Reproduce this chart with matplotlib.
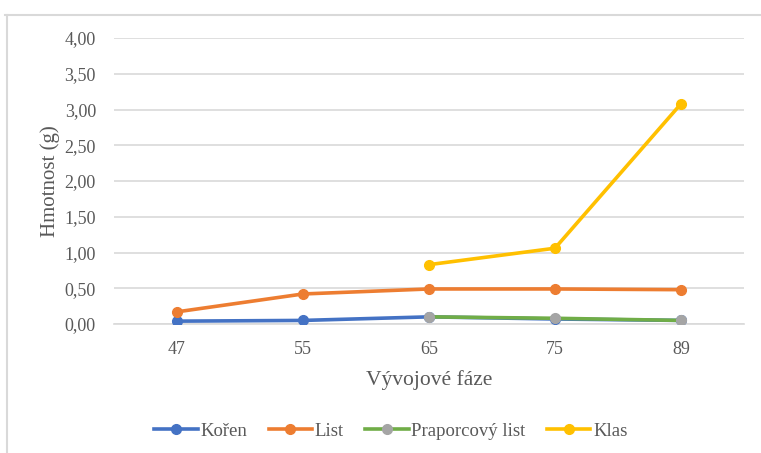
import matplotlib.pyplot as plt
import numpy as np
from matplotlib.lines import Line2D

# data
faze = ["47", "55", "65", "75", "89"]
koren = [0.04, 0.05, 0.10, 0.07, 0.05]
list_ = [0.17, 0.42, 0.49, 0.49, 0.48]
praporcovy = [np.nan, np.nan, 0.10, 0.08, 0.05]
klas = [np.nan, np.nan, 0.83, 1.06, 3.08]
yticks = [0, 0.5, 1, 1.5, 2, 2.5, 3, 3.5, 4]

plt.rcParams['font.family'] = ['Liberation Serif', 'DejaVu Serif']
text_color = "#595959"

fig = plt.figure(figsize=(7.61, 4.53), dpi=100)
ax = fig.add_axes([114/761, 1 - 324/453, 630/761, 286/453])

x = np.arange(len(faze))
ax.plot(x, koren, color="#4472C4", lw=2.6, marker="o", ms=7, label="Kořen", zorder=3)
ax.plot(x, list_, color="#ED7D31", lw=2.6, marker="o", ms=7, label="List", zorder=3)
ax.plot(x, praporcovy, color="#70AD47", lw=2.6, marker="o", ms=7,
        mfc="#A5A5A5", mec="#A5A5A5", label="Praporcový list", zorder=3)
ax.plot(x, klas, color="#FFC000", lw=2.6, marker="o", ms=7, label="Klas", zorder=3)

ax.set_xlim(-0.5, len(faze) - 0.5)
ax.set_ylim(0, 4)
ax.set_xticks(x)
ax.set_xticklabels(faze)
ax.set_yticks(yticks)
ax.set_yticklabels([f"{v:.2f}".replace(".", ",") for v in yticks])
ax.grid(axis="y", color="#D9D9D9", lw=1.2)
ax.set_axisbelow(True)
for s in ["top", "right", "left"]:
    ax.spines[s].set_visible(False)
ax.spines["bottom"].set_color("#D9D9D9")
ax.spines["bottom"].set_linewidth(1.2)
ax.tick_params(length=0, colors=text_color, labelsize=13)
ax.tick_params(axis="x", pad=12)
ax.tick_params(axis="y", pad=13)

ax.set_xlabel("Vývojové fáze", fontsize=15.5, color=text_color, labelpad=9)
ax.set_ylabel("Hmotnost (g)", fontsize=15, color=text_color, labelpad=3)

ax.legend(loc="center", bbox_to_anchor=(391/761, 1 - 431/453), bbox_transform=fig.transFigure,
          ncol=4, frameon=False, fontsize=13.5, labelcolor=text_color,
          handlelength=2.3, handletextpad=0.15, columnspacing=1.15)

# chart area border
fig.add_artist(Line2D([5/761, 1], [1 - 15/453, 1 - 15/453], color="#D9D9D9", lw=1.5,
                      transform=fig.transFigure))
fig.add_artist(Line2D([7/761, 7/761], [0, 1 - 15/453], color="#D9D9D9", lw=1.5,
                      transform=fig.transFigure))

fig.savefig("out.png", dpi=100)
